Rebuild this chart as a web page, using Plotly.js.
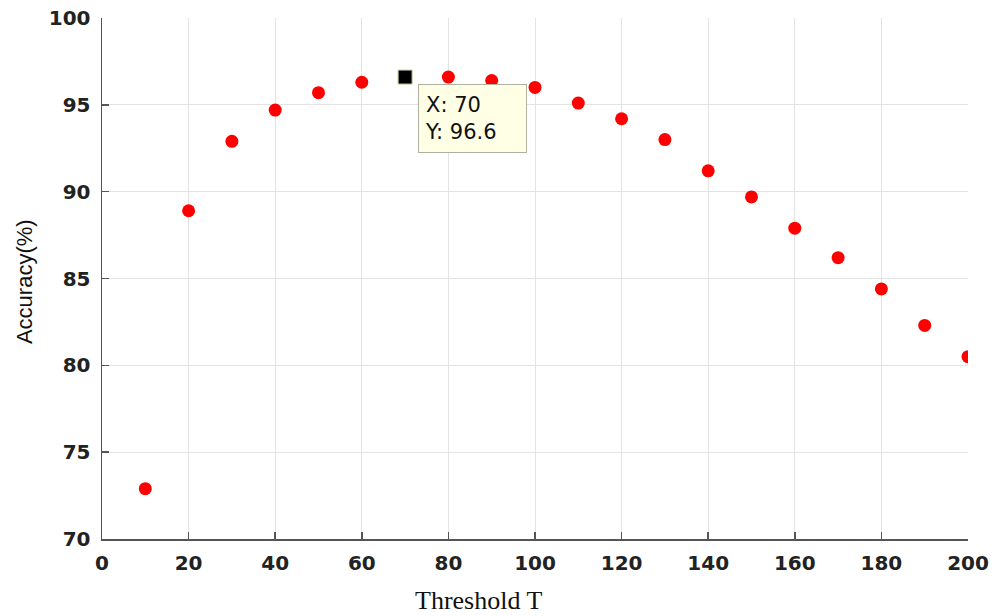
<!DOCTYPE html>
<html>
<head>
<meta charset="utf-8">
<script src="https://cdn.plot.ly/plotly-3.0.1.min.js"></script>
<style>html,body{margin:0;padding:0;background:#fff;}#chart{width:995px;height:616px;}</style>
</head>
<body>
<div id="chart"></div>
<script>
const thresholds = [10, 20, 30, 40, 50, 60, 70, 80, 90, 100, 110, 120, 130, 140, 150, 160, 170, 180, 190, 200];
const accuracy = [72.9, 88.9, 92.9, 94.7, 95.7, 96.3, 96.6, 96.6, 96.4, 96.0, 95.1, 94.2, 93.0, 91.2, 89.7, 87.9, 86.2, 84.4, 82.3, 80.5];
const selectedX = [70];
const selectedY = [96.6];
const xTicks = [0, 20, 40, 60, 80, 100, 120, 140, 160, 180, 200];
const yTicks = [70, 75, 80, 85, 90, 95, 100];
const xTitle = 'Threshold T';
const yTitle = 'Accuracy(%)';

const tickFont = {family: 'DejaVu Sans, sans-serif', size: 20, color: '#222', weight: 'bold'};

const traces = [
  {
    x: thresholds, y: accuracy, type: 'scatter', mode: 'markers',
    marker: {color: '#ff0000', size: 13, symbol: 'circle'},
    hoverinfo: 'skip', showlegend: false
  },
  {
    x: selectedX, y: selectedY, type: 'scatter', mode: 'markers',
    marker: {color: '#000000', size: 14, symbol: 'square', line: {color: '#c8c8a0', width: 1}},
    hoverinfo: 'skip', showlegend: false
  }
];

const layout = {
  width: 995, height: 616,
  margin: {l: 102, r: 27, t: 18, b: 77},
  paper_bgcolor: '#ffffff', plot_bgcolor: '#ffffff',
  showlegend: false,
  xaxis: {
    range: [0, 200], tickvals: xTicks, ticktext: xTicks.map(String),
    showgrid: true, gridcolor: '#e3e3e3', gridwidth: 1,
    showline: true, linecolor: '#555', linewidth: 1.5,
    ticks: 'inside', ticklen: 7, tickcolor: '#555', tickwidth: 1.5,
    tickfont: tickFont, zeroline: false, ticklabelstandoff: 5
  },
  yaxis: {
    range: [70, 100], tickvals: yTicks, ticktext: yTicks.map(String),
    showgrid: true, gridcolor: '#e3e3e3', gridwidth: 1,
    showline: true, linecolor: '#555', linewidth: 1.5,
    ticks: 'inside', ticklen: 7, tickcolor: '#555', tickwidth: 1.5,
    tickfont: tickFont, zeroline: false, ticklabelstandoff: 6
  },
  annotations: [
    {
      x: selectedX[0], y: selectedY[0], xref: 'x', yref: 'y',
      text: 'X: ' + selectedX[0] + '<br>Y: ' + selectedY[0],
      showarrow: false, xanchor: 'left', yanchor: 'top', align: 'left',
      xshift: 13, yshift: -7, width: 95, height: 55, valign: 'middle',
      font: {family: 'DejaVu Sans, sans-serif', size: 21, color: '#111'},
      bgcolor: '#ffffe6', bordercolor: '#b0b0a0', borderwidth: 1, borderpad: 6
    },
    {
      x: 0.4353, y: -0.086, xref: 'paper', yref: 'paper',
      text: xTitle, showarrow: false, xanchor: 'center', yanchor: 'top',
      font: {family: 'Liberation Serif, Times New Roman, serif', size: 26, color: '#111'}
    },
    {
      x: -0.0901, y: 0.495, xref: 'paper', yref: 'paper',
      text: yTitle, showarrow: false, xanchor: 'center', yanchor: 'middle', textangle: -90,
      font: {family: 'Liberation Sans, Arial, sans-serif', size: 22, color: '#111'}
    }
  ]
};

Plotly.newPlot('chart', traces, layout, {displayModeBar: false, staticPlot: true});
</script>
</body>
</html>
